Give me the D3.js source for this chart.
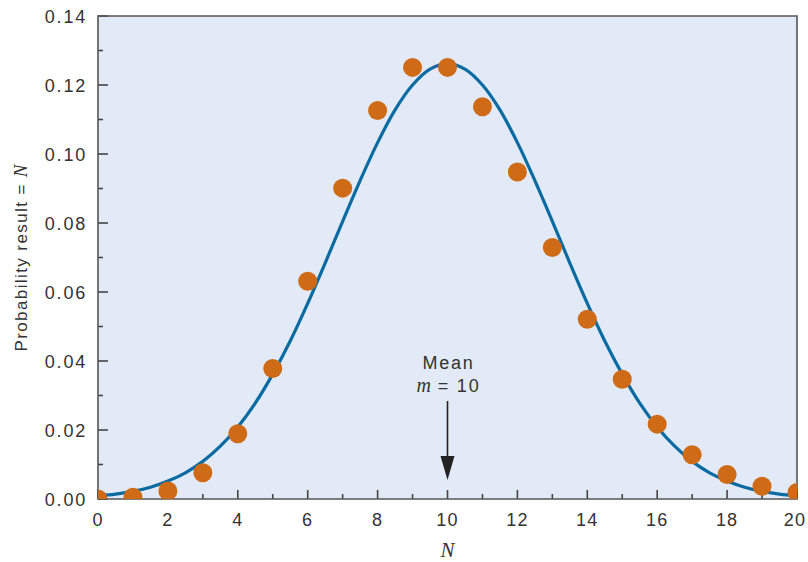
<!DOCTYPE html>
<html>
<head>
<meta charset="utf-8">
<script src="https://cdn.jsdelivr.net/npm/d3@7"></script>
<style>
  body { margin: 0; background: #fff; }
  text { font-family: "Liberation Sans", Arial, sans-serif; fill: #333; }
  .it { font-family: "Liberation Serif", "DejaVu Serif", serif; font-style: italic; letter-spacing: 0; }
</style>
</head>
<body>
<svg id="chart" width="808" height="562"></svg>
<script>
// Poisson probabilities
const counts = [0, 1, 2, 3, 4, 5, 6, 7, 8, 9, 10, 11, 12, 13, 14, 15, 16, 17, 18, 19, 20];
const probs = [0.0000, 0.0005, 0.0023, 0.0076, 0.0189, 0.0378, 0.0631, 0.0901, 0.1126, 0.1251, 0.1251,
               0.1137, 0.0948, 0.0729, 0.0521, 0.0347, 0.0217, 0.0128, 0.0071, 0.0037, 0.0019];

// smooth curve, read at half steps
const curveX = [0, 0.5, 1, 1.5, 2, 2.5, 3, 3.5, 4, 4.5, 5, 5.5, 6, 6.5, 7, 7.5, 8, 8.5, 9, 9.5, 10,
                10.5, 11, 11.5, 12, 12.5, 13, 13.5, 14, 14.5, 15, 15.5, 16, 16.5, 17, 17.5, 18, 18.5, 19, 19.5, 20];
const curveY = [0.00085, 0.0014, 0.0022, 0.0034, 0.0052, 0.0076, 0.0109, 0.0153, 0.0209, 0.0278, 0.0362,
                0.0458, 0.0567, 0.0684, 0.0805, 0.0923, 0.1033, 0.1128, 0.1200, 0.1246, 0.1262,
                0.1246, 0.1200, 0.1128, 0.1033, 0.0923, 0.0805, 0.0684, 0.0567, 0.0458, 0.0362,
                0.0278, 0.0209, 0.0153, 0.0109, 0.0076, 0.0052, 0.0034, 0.0022, 0.0014, 0.00085];

const xTicks = [0, 2, 4, 6, 8, 10, 12, 14, 16, 18, 20];
const yTicks = [0, 0.02, 0.04, 0.06, 0.08, 0.10, 0.12, 0.14];
const meanValue = 10;

const svg = d3.select("#chart");
const m = {left: 98, right: 11, top: 16, bottom: 63};
const W = 808 - m.left - m.right, H = 562 - m.top - m.bottom;

const x = d3.scaleLinear().domain([0, 20]).range([0, W]);
const y = d3.scaleLinear().domain([0, 0.14]).range([H, 0]);

const g = svg.append("g").attr("transform", `translate(${m.left},${m.top})`);

g.append("rect").attr("width", W).attr("height", H).attr("fill", "#e1eaf6");

svg.append("defs").append("clipPath").attr("id", "clip")
  .append("rect").attr("width", W).attr("height", H);

// ticks pointing inward
const minorX = d3.range(1, 20, 2), minorY = d3.range(0.01, 0.14, 0.02);
g.selectAll(".xt").data(xTicks).join("line")
  .attr("x1", d => x(d)).attr("x2", d => x(d)).attr("y1", H).attr("y2", H - 9)
  .attr("stroke", "#444").attr("stroke-width", 1.6);
g.selectAll(".xm").data(minorX).join("line")
  .attr("x1", d => x(d)).attr("x2", d => x(d)).attr("y1", H).attr("y2", H - 5)
  .attr("stroke", "#444").attr("stroke-width", 1.6);
g.selectAll(".yt").data(yTicks).join("line")
  .attr("x1", 0).attr("x2", 10).attr("y1", d => y(d)).attr("y2", d => y(d))
  .attr("stroke", "#444").attr("stroke-width", 1.6);
g.selectAll(".ym").data(minorY).join("line")
  .attr("x1", 0).attr("x2", 5).attr("y1", d => y(d)).attr("y2", d => y(d))
  .attr("stroke", "#444").attr("stroke-width", 1.6);

// frame
g.append("path").attr("d", `M0,0V${H}H${W}V0Z`).attr("fill", "none")
  .attr("stroke", "#555").attr("stroke-width", 1.6);

// tick labels (wide-set Helvetica look)
g.selectAll(".xl").data(xTicks).join("text")
  .attr("x", d => x(d) - (d === 20 ? 2 : 0)).attr("y", H + 27).attr("text-anchor", "middle")
  .attr("font-size", 18).attr("letter-spacing", 1.2).text(d => d);
g.selectAll(".yl").data(yTicks).join("text")
  .attr("x", -11).attr("y", d => y(d) + 6.5).attr("text-anchor", "end")
  .attr("font-size", 18).attr("letter-spacing", 1.8).text(d => d3.format(".2f")(d));

const plot = g.append("g").attr("clip-path", "url(#clip)");

plot.append("path")
  .datum(curveX.map((v, i) => [v, curveY[i]]))
  .attr("d", d3.line().x(d => x(d[0])).y(d => y(d[1])).curve(d3.curveCatmullRom))
  .attr("fill", "none").attr("stroke", "#0a6ba3").attr("stroke-width", 3.2);

plot.selectAll("circle").data(counts).join("circle")
  .attr("cx", d => x(d)).attr("cy", (d, i) => y(probs[i])).attr("r", 9.5)
  .attr("fill", "#cf6a17");

// mean annotation
const mx = x(meanValue);
g.append("text").attr("x", mx + 1).attr("y", 353).attr("text-anchor", "middle")
  .attr("font-size", 18).attr("letter-spacing", 1.8).text("Mean");
const mt = g.append("text").attr("x", mx + 1).attr("y", 376).attr("text-anchor", "middle")
  .attr("font-size", 18).attr("letter-spacing", 1.8);
mt.append("tspan").attr("class", "it").attr("font-size", 20).text("m");
mt.append("tspan").text(" = 10");
g.append("line").attr("x1", mx).attr("x2", mx).attr("y1", 385).attr("y2", 446)
  .attr("stroke", "#222").attr("stroke-width", 1.6);
g.append("path").attr("d", `M${mx - 7},${440}L${mx + 7},${440}L${mx},${464}Z`).attr("fill", "#222");

// axis titles
svg.append("text").attr("class", "it").attr("x", m.left + W / 2).attr("y", 557)
  .attr("text-anchor", "middle").attr("font-size", 21).text("N");
const yt = svg.append("text").attr("transform", "translate(27,258) rotate(-90)")
  .attr("text-anchor", "middle").attr("font-size", 17).attr("letter-spacing", 1.4);
yt.append("tspan").text("Probability result = ");
yt.append("tspan").attr("class", "it").attr("font-size", 19).text("N");
</script>
</body>
</html>
